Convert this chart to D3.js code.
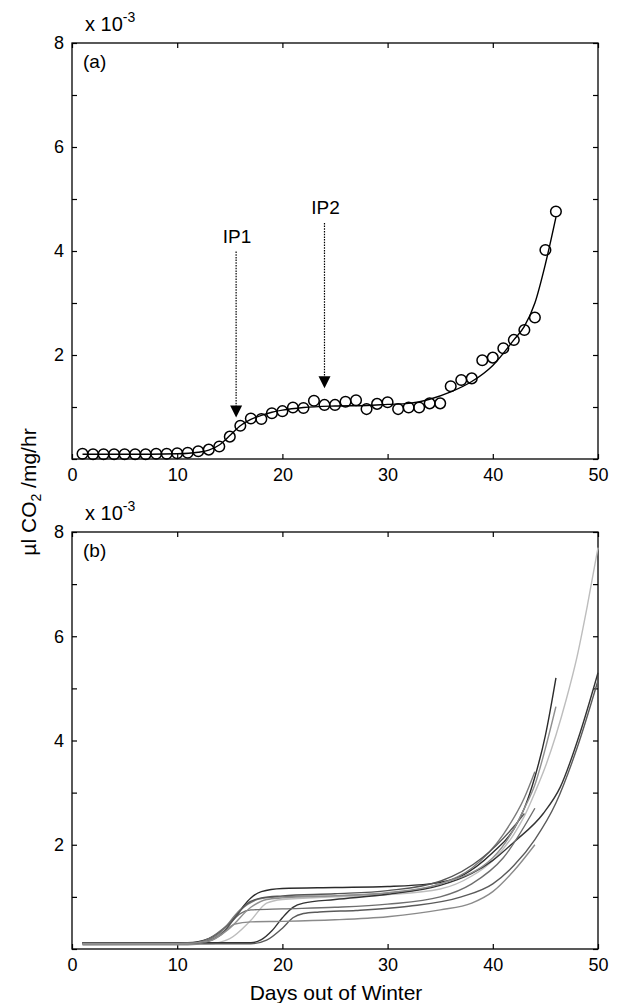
<!DOCTYPE html>
<html>
<head>
<meta charset="utf-8">
<script src="https://cdn.jsdelivr.net/npm/d3@7"></script>
<style>
  html, body { margin: 0; padding: 0; background: #fff; }
  svg { display: block; font-family: "Liberation Sans", Arial, sans-serif; }
</style>
</head>
<body>
<svg id="chart" width="622" height="1003"></svg>
<script>
// ---------- DATA ----------
const xTicks = [0, 10, 20, 30, 40, 50];
const yTicks = [0, 1, 2, 3, 4, 5, 6, 7, 8];
const yTickLabels = [2, 4, 6, 8];

// panel (a): observed respiration (x 10^-3)
const days = [1,2,3,4,5,6,7,8,9,10,11,12,13,14,15,16,17,18,19,20,21,22,23,24,25,26,27,28,29,30,31,32,33,34,35,36,37,38,39,40,41,42,43,44,45,46];
const rates = [0.10,0.09,0.09,0.09,0.09,0.09,0.09,0.10,0.10,0.11,0.12,0.15,0.18,0.24,0.43,0.64,0.78,0.77,0.88,0.92,0.99,0.98,1.12,1.04,1.04,1.10,1.13,0.96,1.06,1.09,0.96,0.99,0.99,1.07,1.07,1.40,1.52,1.55,1.90,1.95,2.13,2.29,2.48,2.72,4.02,4.76];

// panel (a): fitted curve
const fitDays = [1,5,10,12,13,14,15,16,17,18,19,20,22,25,28,30,32,34,36,38,40,42,43,44,45,46];
const fitVals = [0.09,0.09,0.10,0.13,0.17,0.27,0.45,0.64,0.76,0.84,0.90,0.94,0.99,1.02,1.03,1.05,1.07,1.15,1.29,1.49,1.80,2.29,2.55,3.00,3.75,4.65];

// panel (a): inflection point annotations
const ipLabels = ["IP1", "IP2"];
const ipDays = [15.6, 24.0];
const ipTop = [3.99, 4.54];
const ipTip = [0.80, 1.36];
const ipText = [4.15, 4.71];

// panel (b): fitted curves for individual colonies
const curveShades = ["#2b2b2b", "#7a7a7a", "#bdbdbd", "#333333", "#5a5a5a", "#6e6e6e", "#8a8a8a", "#555555", "#8f8f8f"];
const curveDays = [
  [1,11,13,15,16,17,18,20,25,30,34,37,40,42,43,44,45,46],
  [1,12,14,16,18,20,25,30,35,38,41,43,44],
  [1,13,15,17,18.5,20,25,30,35,38,40,42,43,44,45,46,47,48,49,50],
  [1,17,18,19,20,21,22,25,30,35,38,40,42,44.8,46.4,48.3,50],
  [1,17,18.5,20,21,22,23.5,27,32,37,40,42,44,46,48,50],
  [1,11,13,15,16,17,20,25,30,35,38,41,44],
  [1,11,13,14.5,15.5,17,20,25,30,35,38,40,42,44],
  [1,12,14,15.5,16.5,18,20,25,30,35,39,42,43],
  [1,10,13,15,17,18.5,20,25,30,35,40,42,43,44,45,46]
];
const curveVals = [
  [0.12,0.12,0.20,0.50,0.75,0.98,1.10,1.16,1.18,1.20,1.25,1.40,1.85,2.30,2.70,3.30,4.10,5.20],
  [0.10,0.12,0.30,0.75,0.97,1.00,1.02,1.07,1.25,1.55,2.20,2.90,3.40],
  [0.08,0.10,0.20,0.55,0.88,0.95,1.00,1.04,1.15,1.40,1.70,2.20,2.55,3.00,3.50,4.10,4.80,5.60,6.60,7.70],
  [0.12,0.12,0.18,0.35,0.60,0.80,0.88,0.95,1.05,1.22,1.45,1.70,2.05,2.60,3.10,4.15,5.30],
  [0.10,0.10,0.17,0.40,0.60,0.68,0.71,0.74,0.82,1.00,1.25,1.60,2.10,2.80,3.85,5.15],
  [0.10,0.10,0.20,0.50,0.68,0.75,0.77,0.80,0.86,1.00,1.25,1.75,2.70],
  [0.08,0.08,0.15,0.35,0.48,0.52,0.53,0.56,0.62,0.75,0.88,1.10,1.50,2.00],
  [0.12,0.12,0.25,0.60,0.85,0.98,1.02,1.06,1.12,1.30,1.75,2.35,2.60],
  [0.10,0.10,0.15,0.40,0.80,0.95,0.98,1.02,1.08,1.25,1.75,2.30,2.70,3.15,3.85,4.65]
];

// ---------- LAYOUT ----------
const svg = d3.select("#chart");
const left = 72, right = 598;
const panels = [
  { top: 43, bottom: 459, tag: "(a)" },
  { top: 532, bottom: 949, tag: "(b)" }
];
const x = d3.scaleLinear().domain([0, 50]).range([left, right]);
const tickFont = 18;

panels.forEach((p, i) => {
  p.y = d3.scaleLinear().domain([0, 8]).range([p.bottom, p.top]);
  const g = svg.append("g");

  g.append("rect").attr("x", left).attr("y", p.top)
    .attr("width", right - left).attr("height", p.bottom - p.top)
    .attr("fill", "none").attr("stroke", "#000").attr("stroke-width", 1.3);

  const ax = g.append("g").attr("transform", `translate(0,${p.bottom})`)
    .call(d3.axisBottom(x).tickValues(xTicks).tickSize(-5).tickPadding(9).tickFormat(d3.format("d")));
  const axTop = g.append("g").attr("transform", `translate(0,${p.top})`)
    .call(d3.axisTop(x).tickValues(xTicks).tickSize(-5).tickFormat(""));
  const ay = g.append("g").attr("transform", `translate(${left},0)`)
    .call(d3.axisLeft(p.y).tickValues(yTicks).tickSize(-5).tickPadding(8)
      .tickFormat(d => yTickLabels.includes(d) ? d : ""));
  const ayR = g.append("g").attr("transform", `translate(${right},0)`)
    .call(d3.axisRight(p.y).tickValues(yTicks).tickSize(-5).tickFormat(""));
  [ax, axTop, ay, ayR].forEach(a => {
    a.select(".domain").remove();
    a.selectAll("line").attr("stroke", "#000").attr("stroke-width", 1.2);
    a.selectAll("text").attr("font-size", tickFont).attr("fill", "#000")
      .attr("font-family", "Liberation Sans, Arial, sans-serif");
  });

  const ex = g.append("text").attr("x", left + 13).attr("y", p.top - 12)
    .attr("font-size", 20).attr("fill", "#000");
  ex.append("tspan").text("x 10");
  ex.append("tspan").attr("dy", -9).attr("font-size", 14).text("-3");

  g.append("text").attr("x", left + 11).attr("y", p.top + 25)
    .attr("font-size", 19).attr("fill", "#000").text(p.tag);
});

// ---------- PANEL (a) ----------
const pa = panels[0];
const lineA = d3.line().x((d, i) => x(fitDays[i])).y((d, i) => pa.y(fitVals[i])).curve(d3.curveMonotoneX);
svg.append("path").attr("d", lineA(fitDays)).attr("fill", "none")
  .attr("stroke", "#000").attr("stroke-width", 1.4);

svg.append("g").selectAll("circle").data(days).join("circle")
  .attr("cx", d => x(d)).attr("cy", (d, i) => pa.y(rates[i]))
  .attr("r", 5.3).attr("fill", "none").attr("stroke", "#000").attr("stroke-width", 1.5);

ipLabels.forEach((lab, i) => {
  const cx = x(ipDays[i]);
  const tipY = pa.y(ipTip[i]);
  svg.append("line").attr("x1", cx).attr("x2", cx)
    .attr("y1", pa.y(ipTop[i])).attr("y2", tipY - 10)
    .attr("stroke", "#000").attr("stroke-width", 1.2).attr("stroke-dasharray", "1.5,1.2");
  svg.append("path")
    .attr("d", `M${cx - 6},${tipY - 12} L${cx + 6},${tipY - 12} L${cx},${tipY} Z`)
    .attr("fill", "#000");
  svg.append("text").attr("x", cx + 1).attr("y", pa.y(ipText[i]))
    .attr("text-anchor", "middle").attr("font-size", 19).attr("fill", "#000").text(lab);
});

// ---------- PANEL (b) ----------
const pb = panels[1];
curveDays.forEach((ds, k) => {
  const vs = curveVals[k];
  const ln = d3.line().x((d, i) => x(ds[i])).y((d, i) => pb.y(vs[i])).curve(d3.curveMonotoneX);
  svg.append("path").attr("d", ln(ds)).attr("fill", "none")
    .attr("stroke", curveShades[k]).attr("stroke-width", 1.4);
});

// ---------- AXIS TITLES ----------
svg.append("text").attr("x", x(25) + 1).attr("y", 1000)
  .attr("text-anchor", "middle").attr("font-size", 21).attr("fill", "#000")
  .text("Days out of Winter");

const yl = svg.append("text")
  .attr("transform", "translate(36,492) rotate(-90)")
  .attr("text-anchor", "middle").attr("font-size", 21).attr("fill", "#000");
yl.append("tspan").text("µl CO");
yl.append("tspan").attr("dy", 5).attr("font-size", 14).text("2");
yl.append("tspan").attr("dy", -5).text(" /mg/hr");
</script>
</body>
</html>
